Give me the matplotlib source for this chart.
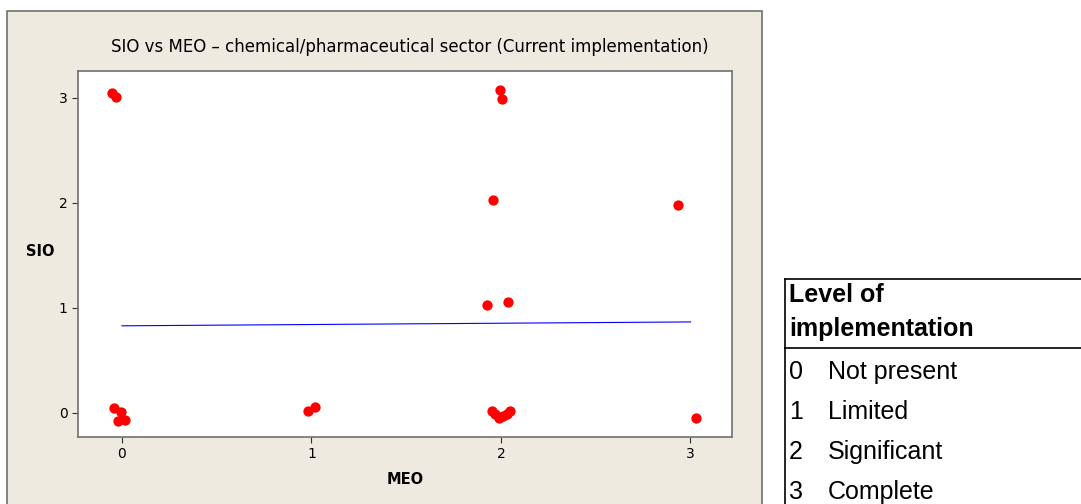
import matplotlib.pyplot as plt
from matplotlib.patches import Rectangle
from matplotlib.lines import Line2D

# Scatter data (jittered ordinal scores)
meo = [-0.054, -0.033, 1.995, 2.005, 1.958, 2.934, 1.926, 2.037,
       -0.042, -0.005, -0.021, 0.016, 0.98, 1.02, 3.03,
       1.95, 1.97, 1.99, 2.01, 2.03, 2.05]
sio = [3.045, 3.005, 3.08, 2.99, 2.03, 1.98, 1.03, 1.06,
       0.05, 0.01, -0.08, -0.07, 0.02, 0.06, -0.05,
       0.02, -0.01, -0.05, -0.03, -0.01, 0.02]

# Fitted regression line
fit_x = [0.0, 3.0]
fit_y = [0.83, 0.867]

ticks = [0, 1, 2, 3]
levels = ["0", "1", "2", "3"]
level_names = ["Not present", "Limited", "Significant", "Complete"]

W, H = 1081, 504
fig = plt.figure(figsize=(W / 100, H / 100), dpi=100)
fig.patch.set_facecolor('white')

def fx(px):
    return px / W

def fy(py):
    return 1 - py / H

# Graph window background
bg = Rectangle((fx(7), fy(520)), fx(762) - fx(7), fy(11) - fy(520),
               transform=fig.transFigure, facecolor='#eeeae0',
               edgecolor='#707070', linewidth=1.2, zorder=-1)
fig.patches.append(bg)

ax = fig.add_axes([fx(78), fy(437), fx(732) - fx(78), fy(71) - fy(437)])
ax.set_zorder(1)
ax.set_facecolor('white')
ax.scatter(meo, sio, s=55, color='#ff0000', zorder=3, linewidths=0)
ax.plot(fit_x, fit_y, color='#0000ff', linewidth=0.8)

ax.set_xlim(-0.232, 3.219)
ax.set_ylim(-0.229, 3.257)
ax.set_xticks(ticks)
ax.set_yticks(ticks)
ax.tick_params(direction='out', length=4, width=0.8, colors='#333333',
               labelsize=10, labelcolor='black')
for s in ax.spines.values():
    s.set_color('#707070')
    s.set_linewidth(1.2)

fig.text(fx(410), fy(47), "SIO vs MEO \u2013 chemical/pharmaceutical sector (Current implementation)",
         ha='center', va='center', fontsize=12)
fig.text(fx(40), fy(252), "SIO", ha='center', va='center', fontsize=10.5, fontweight='bold')
fig.text(fx(405), fy(480), "MEO", ha='center', va='center', fontsize=10.5, fontweight='bold')

# Legend table for implementation levels
lc = 'black'
fig.lines.append(Line2D([fx(785), fx(1081)], [fy(279), fy(279)], transform=fig.transFigure, color=lc, lw=1.2))
fig.lines.append(Line2D([fx(785), fx(1081)], [fy(348), fy(348)], transform=fig.transFigure, color=lc, lw=1.2))
fig.lines.append(Line2D([fx(785), fx(785)], [fy(279), fy(504)], transform=fig.transFigure, color=lc, lw=1.2))

tfont = 'Liberation Sans'
fig.text(fx(789), fy(295), "Level of", ha='left', va='center', fontsize=18,
         fontweight='bold', family=tfont)
fig.text(fx(789), fy(329), "implementation", ha='left', va='center', fontsize=18,
         fontweight='bold', family=tfont)
for i, (lv, nm) in enumerate(zip(levels, level_names)):
    y = 372 + 40 * i
    fig.text(fx(789), fy(y), lv, ha='left', va='center', fontsize=18, family=tfont)
    fig.text(fx(828), fy(y), nm, ha='left', va='center', fontsize=18, family=tfont)

fig.savefig("out.png", dpi=100)
